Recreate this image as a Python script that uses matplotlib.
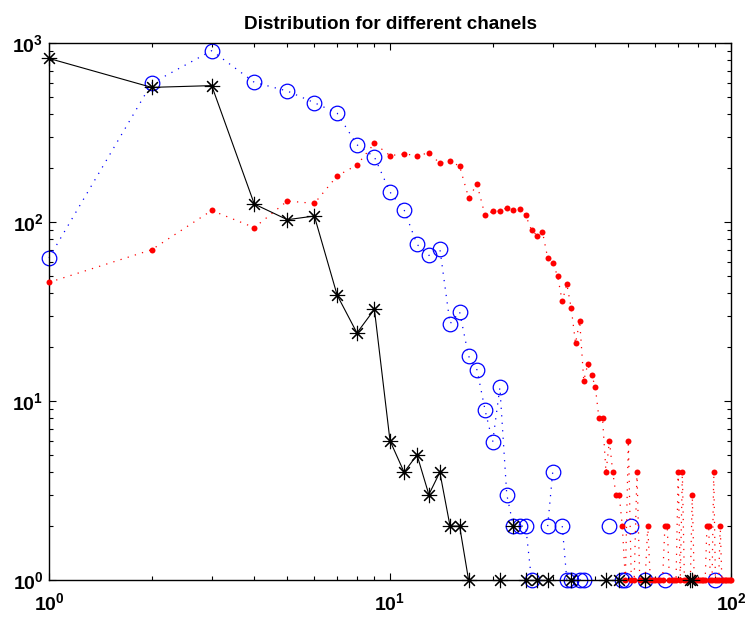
import numpy as np
import matplotlib
matplotlib.use('Agg')
import matplotlib.pyplot as plt
from matplotlib.ticker import LogLocator, NullFormatter, FuncFormatter

## 1. Data (counts per channel index, zero counts are left out on the log plot)
channels = np.arange(1, 101)

black_x = [1, 2, 3, 4, 5, 6, 7, 8, 9, 10, 11, 12, 13, 14, 15, 16, 17,
           21, 23, 25, 27, 29, 34, 43, 47, 56, 76, 77]
black_y = [820, 565, 578, 126, 103, 108, 39, 24, 32.5, 6, 4, 5, 3, 4, 2, 2, 1,
           1, 2, 1, 1, 1, 1, 1, 1, 1, 1, 1]

blue_x = [1, 2, 3, 4, 5, 6, 7, 8, 9, 10, 11, 12, 13, 14, 15, 16, 17, 18, 19, 20,
          21, 22, 23, 24, 25, 26, 29, 30, 32, 33, 34, 36, 37, 44, 48, 49, 51, 56, 64, 90]
blue_y = [63, 595, 906, 603, 539, 464, 405, 270, 231, 147, 117, 75, 65, 71, 27, 31.5,
          17.8, 14.9, 8.9, 5.9, 11.9, 3, 2, 2, 2, 1, 2, 4, 2, 1, 1, 1, 1, 2, 1, 1, 2, 1, 1, 1]

red_y = [46, 70, 116, 93, 131, 127, 181, 208, 275, 235,
         240, 235, 243, 213, 219, 205, 137, 162, 109, 115,
         115, 120, 116, 118, 109, 90, 84, 88, 63, 59,
         50, 36, 45, 33, 21, 28, 13, 16, 14, 12,
         8, 8, 4, 6, 4, 3, 3, 2, 1, 6,
         1, 1, 4, 1, 1, 1, 2, 1, 1, 1,
         1, 1, 1, 2, 2, 1, 1, 1, 1, 4,
         1, 4, 1, 1, 1, 1, 3, 1, 1, 1,
         1, 1, 1, 1, 2, 2, 1, 1, 4, 1,
         1, 1, 2, 1, 1, 1, 1, 1, 1, 1]


def full_series(xs, ys):
    # put values on the 1..100 grid, NaN where the count is zero (breaks the line)
    arr = np.full(len(channels), np.nan)
    arr[np.array(xs) - 1] = ys
    return arr


black = full_series(black_x, black_y)
blue = full_series(blue_x, blue_y)
red = np.array(red_y, dtype=float)

## 2. Style
plt.rcParams['font.family'] = 'Liberation Sans'
plt.rcParams['font.weight'] = 'bold'
plt.rcParams['mathtext.fontset'] = 'custom'
plt.rcParams['mathtext.rm'] = 'Liberation Sans:bold'
plt.rcParams['mathtext.default'] = 'rm'

## 3. Plot
fig = plt.figure(figsize=(7.51, 6.17), dpi=100, facecolor='white')
ax = fig.add_axes([49 / 751, 1 - 580 / 617, 682 / 751, 537 / 617])

ax.plot(channels, blue, color='#0000ff', linestyle=(0, (1, 5)), linewidth=0.9,
        marker='o', markersize=10.5, markerfacecolor='none', markeredgewidth=0.9,
        clip_on=False, zorder=2)
ax.plot(channels, red, color='#ff0000', linestyle=(0, (1, 5)), linewidth=0.9,
        marker='o', markersize=4.3, markeredgewidth=0,
        clip_on=False, zorder=3)
ax.plot(channels, black, color='black', linestyle='-', linewidth=0.8,
        marker=(8, 2, 0), markersize=11, markeredgewidth=0.8,
        clip_on=False, zorder=4)

ax.set_xscale('log')
ax.set_yscale('log')
ax.set_xlim(1, 100)
ax.set_ylim(1, 1000)

fmt = FuncFormatter(lambda v, p: r'$10^{%d}$' % round(np.log10(v)))
for axis in (ax.xaxis, ax.yaxis):
    axis.set_major_locator(LogLocator(base=10))
    axis.set_minor_locator(LogLocator(base=10, subs=np.arange(2, 10)))
    axis.set_major_formatter(fmt)
    axis.set_minor_formatter(NullFormatter())

ax.tick_params(which='both', direction='in', top=True, right=True, width=0.8)
ax.tick_params(which='major', length=5, labelsize=14)
ax.tick_params(which='minor', length=3)
ax.tick_params(axis='x', which='major', pad=9)
ax.tick_params(axis='y', which='major', pad=4)
for s in ax.spines.values():
    s.set_linewidth(1.0)

ax.set_title('Distribution for different chanels', fontsize=13.6, fontweight='bold', pad=10)

fig.savefig('out.png', dpi=100)
